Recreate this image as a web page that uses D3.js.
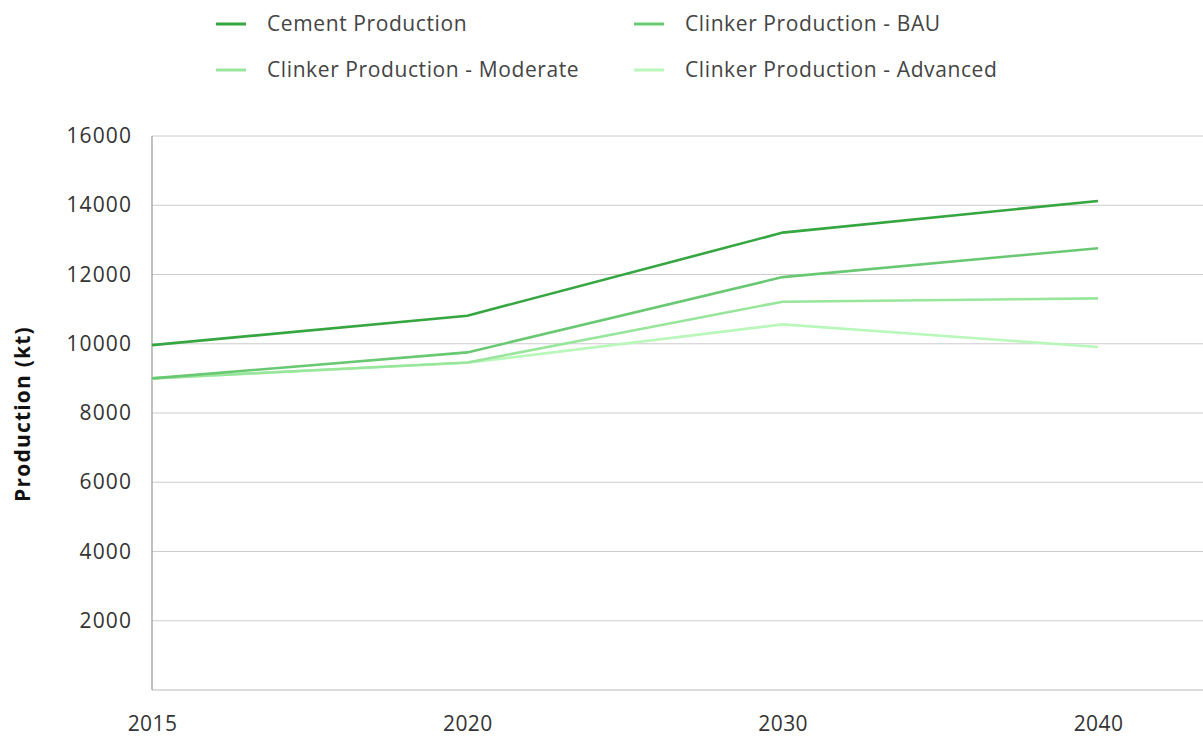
<!DOCTYPE html>
<html><head><meta charset="utf-8">
<script src="https://cdn.jsdelivr.net/npm/d3@7"></script>
<style>body{margin:0;background:#fff}svg{display:block}</style>
</head><body>
<svg id="c" width="1203" height="737"></svg>
<script>
const years = ["2015", "2020", "2030", "2040"];
const seriesNames = ["Cement Production", "Clinker Production - BAU", "Clinker Production - Moderate", "Clinker Production - Advanced"];
const cement = [9960, 10810, 13210, 14125];
const clinkerBAU = [9000, 9750, 11925, 12760];
const clinkerModerate = [9000, 9460, 11215, 11310];
const clinkerAdvanced = [9000, 9450, 10560, 9905];
const yTicks = [2000, 4000, 6000, 8000, 10000, 12000, 14000, 16000];
const colors = ["#36a641", "#69c872", "#98e59c", "#b9f7bb"];

(function () {
const series = [cement, clinkerBAU, clinkerModerate, clinkerAdvanced];
const svg = d3.select("#c");
const font = "'Open Sans', Lato, sans-serif";
const pL = 152, pR = 1203, pT = 136, pB = 690;

const x = d3.scalePoint().domain(years).range([152, 1098]);
const y = d3.scaleLinear().domain([0, 16000]).range([pB, pT]);

// gridlines
svg.append("g").selectAll("line").data(yTicks).join("line")
  .attr("x1", pL).attr("x2", pR)
  .attr("y1", d => y(d)).attr("y2", d => y(d))
  .attr("stroke", "#cccccc").attr("stroke-width", 1);
// baseline
svg.append("line").attr("x1", pL).attr("x2", pR).attr("y1", y(0)).attr("y2", y(0))
  .attr("stroke", "#d0d0d0").attr("stroke-width", 1.5);
// y axis line
svg.append("line").attr("x1", pL).attr("x2", pL).attr("y1", pT).attr("y2", pB)
  .attr("stroke", "#999").attr("stroke-width", 1.2);

// y tick labels
const yAxis = d3.axisLeft(y).tickValues(yTicks).tickSize(0).tickPadding(20).tickFormat(d3.format("d"));
const ya = svg.append("g").attr("transform", `translate(${pL},0)`).call(yAxis);
ya.select(".domain").remove();
ya.selectAll("text").attr("font-family", font).attr("font-size", 21)
  .attr("letter-spacing", 1.1).attr("fill", "#333");

// x tick labels
const xAxis = d3.axisBottom(x).tickSize(0).tickPadding(26);
const xa = svg.append("g").attr("transform", `translate(0,${pB})`).call(xAxis);
xa.select(".domain").remove();
xa.selectAll("text").attr("font-family", font).attr("font-size", 21)
  .attr("letter-spacing", 0.4).attr("fill", "#333");

// y title
svg.append("text").attr("transform", `translate(30,414) rotate(-90)`)
  .attr("text-anchor", "middle").attr("font-family", font).attr("font-weight", "bold")
  .attr("font-size", 21).attr("letter-spacing", 1.2).attr("fill", "#111").text("Production (kt)");

// lines
const line = d3.line().x((d, i) => x(years[i])).y(d => y(d));
svg.append("g").selectAll("path").data(series.map((s, i) => ({s, i})).reverse()).join("path")
  .attr("d", d => line(d.s)).attr("fill", "none")
  .attr("stroke", d => colors[d.i]).attr("stroke-width", 2.6);

// legend
const legPos = [[216, 24], [634, 24], [216, 70], [634, 70]];
const lg = svg.append("g").selectAll("g").data(seriesNames).join("g")
  .attr("transform", (d, i) => `translate(${legPos[i][0]},${legPos[i][1]})`);
lg.append("line").attr("x1", 0).attr("x2", 30).attr("y1", 0).attr("y2", 0)
  .attr("stroke", (d, i) => colors[i]).attr("stroke-width", 3);
lg.append("text").attr("x", 51).attr("y", 0).attr("dy", "0.35em")
  .attr("font-family", font).attr("font-size", 21).attr("letter-spacing", 0.6)
  .attr("fill", "#444").text(d => d);
})();
</script>
</body></html>
